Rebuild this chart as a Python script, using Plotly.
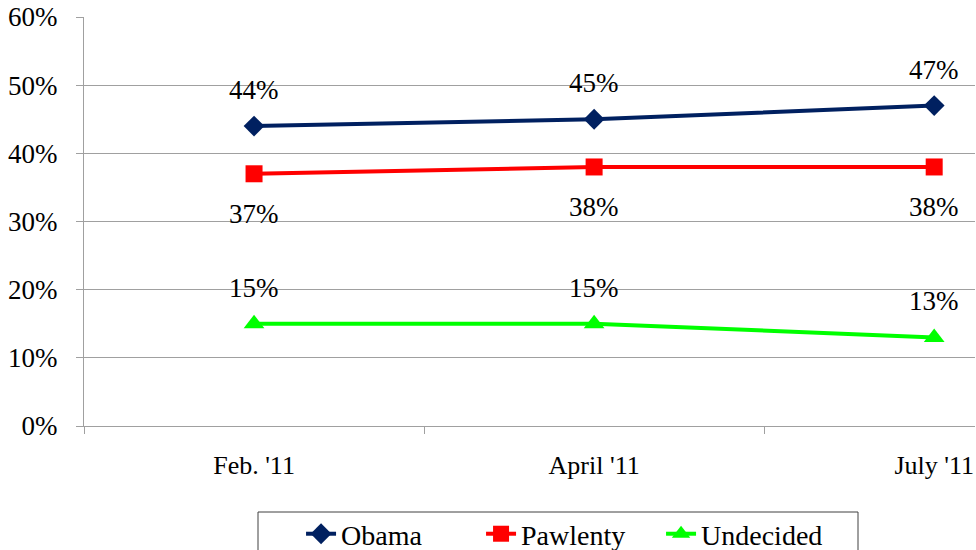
import plotly.graph_objects as go

categories = ["Feb. '11", "April '11", "July '11"]
obama = [44, 45, 47]
pawlenty = [37, 38, 38]
undecided = [15, 15, 13]
y_ticks = [0, 10, 20, 30, 40, 50, 60]
y_tick_labels = [f"{v}%" for v in y_ticks]

FONT = "Liberation Serif"
series = [
    ("Obama", obama, "#002060", "diamond", 16, 36),
    ("Pawlenty", pawlenty, "#FF0000", "square", 17, -40),
    ("Undecided", undecided, "#00FF00", "triangle-up", 18, 36),
]

fig = go.Figure()
for name, vals, color, sym, msize, shift in series:
    fig.add_trace(go.Scatter(
        x=categories, y=vals, name=name, mode="lines+markers",
        line=dict(color=color, width=4),
        marker=dict(symbol=sym, size=msize, color=color),
    ))
    for c, v in zip(categories, vals):
        fig.add_annotation(x=c, y=v, text=f"{v}%", showarrow=False, yshift=shift,
                           font=dict(family=FONT, size=27, color="black"))

fig.update_layout(
    width=976, height=550,
    margin=dict(l=84, r=1, t=17, b=124, autoexpand=False),
    plot_bgcolor="white", paper_bgcolor="white",
    font=dict(family=FONT, size=26, color="black"),
    showlegend=True,
    legend=dict(orientation="h", x=0.2436, xanchor="left", y=-0.203, yanchor="top",
                borderwidth=0, bgcolor="rgba(0,0,0,0)",
                font=dict(size=28, family=FONT, color="black"),
                entrywidth=135, entrywidthmode="pixels"),
    shapes=[dict(type="rect", xref="paper", yref="paper",
                 x0=0.1953, x1=0.8687, y0=-0.2103, y1=-0.45,
                 line=dict(color="#404040", width=1), fillcolor="rgba(0,0,0,0)")],
)
fig.update_xaxes(
    type="category", range=[-0.5, 2.12], showgrid=False, automargin=False,
    showline=True, linecolor="#A0A0A0", linewidth=1,
    ticks="outside", tickson="boundaries", ticklen=7, tickcolor="#A0A0A0",
    tickfont=dict(size=26, family=FONT, color="black"), ticklabelstandoff=16,
    ticklabeloverflow="allow",
)
fig.update_yaxes(
    range=[0, 60], tickvals=y_ticks, ticktext=y_tick_labels, automargin=False,
    showgrid=True, gridcolor="#A0A0A0", gridwidth=1,
    showline=True, linecolor="#A0A0A0", linewidth=1,
    ticks="outside", ticklen=7, tickcolor="#A0A0A0",
    tickfont=dict(size=27, family=FONT, color="black"), zeroline=False,
    ticklabelstandoff=13, ticklabeloverflow="allow",
)

fig.write_html("out.html", config={"displayModeBar": False},
               post_script="document.body.style.margin='0';")
